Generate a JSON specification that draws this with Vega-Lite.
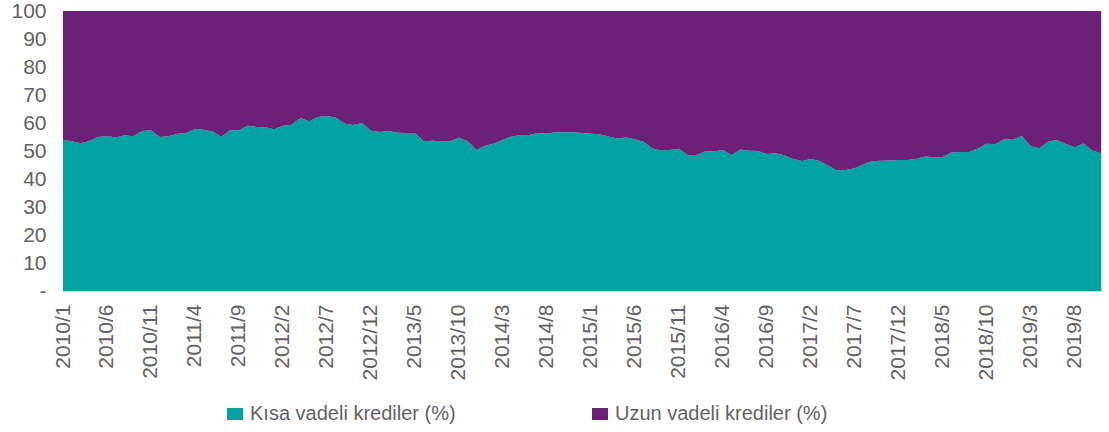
{
  "$schema": "https://vega.github.io/schema/vega-lite/v6.json",
  "width": 1038,
  "height": 280,
  "autosize": {"type": "none"},
  "padding": {"left": 63, "top": 11, "right": 8, "bottom": 141},
  "background": "white",
  "config": {
    "view": {"stroke": "#d9d9d9", "strokeWidth": 1},
    "font": "Liberation Sans",
    "axis": {"labelFont": "Liberation Sans", "labelColor": "#636363", "labelFontSize": 21, "grid": false, "domain": false, "ticks": false},
    "legend": {"labelFont": "Liberation Sans", "labelColor": "#636363", "labelFontSize": 20}
  },
  "data": {
    "values": [
      {"ay": "2010/1", "k": 54.0, "u": 46.0},
      {"ay": "2010/2", "k": 53.5, "u": 46.5},
      {"ay": "2010/3", "k": 52.8, "u": 47.2},
      {"ay": "2010/4", "k": 53.6, "u": 46.4},
      {"ay": "2010/5", "k": 55.0, "u": 45.0},
      {"ay": "2010/6", "k": 55.4, "u": 44.6},
      {"ay": "2010/7", "k": 54.8, "u": 45.2},
      {"ay": "2010/8", "k": 55.6, "u": 44.4},
      {"ay": "2010/9", "k": 55.3, "u": 44.7},
      {"ay": "2010/10", "k": 57.1, "u": 42.9},
      {"ay": "2010/11", "k": 57.4, "u": 42.6},
      {"ay": "2010/12", "k": 55.0, "u": 45.0},
      {"ay": "2011/1", "k": 55.3, "u": 44.7},
      {"ay": "2011/2", "k": 56.2, "u": 43.8},
      {"ay": "2011/3", "k": 56.3, "u": 43.7},
      {"ay": "2011/4", "k": 57.9, "u": 42.1},
      {"ay": "2011/5", "k": 57.6, "u": 42.4},
      {"ay": "2011/6", "k": 57.0, "u": 43.0},
      {"ay": "2011/7", "k": 55.0, "u": 45.0},
      {"ay": "2011/8", "k": 57.4, "u": 42.6},
      {"ay": "2011/9", "k": 57.4, "u": 42.6},
      {"ay": "2011/10", "k": 59.0, "u": 41.0},
      {"ay": "2011/11", "k": 58.6, "u": 41.4},
      {"ay": "2011/12", "k": 58.5, "u": 41.5},
      {"ay": "2012/1", "k": 57.8, "u": 42.2},
      {"ay": "2012/2", "k": 59.0, "u": 41.0},
      {"ay": "2012/3", "k": 59.4, "u": 40.6},
      {"ay": "2012/4", "k": 61.8, "u": 38.2},
      {"ay": "2012/5", "k": 60.6, "u": 39.4},
      {"ay": "2012/6", "k": 62.1, "u": 37.9},
      {"ay": "2012/7", "k": 62.5, "u": 37.5},
      {"ay": "2012/8", "k": 62.0, "u": 38.0},
      {"ay": "2012/9", "k": 59.8, "u": 40.2},
      {"ay": "2012/10", "k": 59.3, "u": 40.7},
      {"ay": "2012/11", "k": 60.0, "u": 40.0},
      {"ay": "2012/12", "k": 57.2, "u": 42.8},
      {"ay": "2013/1", "k": 56.8, "u": 43.2},
      {"ay": "2013/2", "k": 57.2, "u": 42.8},
      {"ay": "2013/3", "k": 56.5, "u": 43.5},
      {"ay": "2013/4", "k": 56.4, "u": 43.6},
      {"ay": "2013/5", "k": 56.4, "u": 43.6},
      {"ay": "2013/6", "k": 53.5, "u": 46.5},
      {"ay": "2013/7", "k": 53.7, "u": 46.3},
      {"ay": "2013/8", "k": 53.5, "u": 46.5},
      {"ay": "2013/9", "k": 53.4, "u": 46.6},
      {"ay": "2013/10", "k": 54.8, "u": 45.2},
      {"ay": "2013/11", "k": 53.5, "u": 46.5},
      {"ay": "2013/12", "k": 50.4, "u": 49.6},
      {"ay": "2014/1", "k": 51.9, "u": 48.1},
      {"ay": "2014/2", "k": 52.7, "u": 47.3},
      {"ay": "2014/3", "k": 54.0, "u": 46.0},
      {"ay": "2014/4", "k": 55.2, "u": 44.8},
      {"ay": "2014/5", "k": 55.7, "u": 44.3},
      {"ay": "2014/6", "k": 55.7, "u": 44.3},
      {"ay": "2014/7", "k": 56.4, "u": 43.6},
      {"ay": "2014/8", "k": 56.2, "u": 43.8},
      {"ay": "2014/9", "k": 56.7, "u": 43.3},
      {"ay": "2014/10", "k": 56.7, "u": 43.3},
      {"ay": "2014/11", "k": 56.7, "u": 43.3},
      {"ay": "2014/12", "k": 56.4, "u": 43.6},
      {"ay": "2015/1", "k": 56.2, "u": 43.8},
      {"ay": "2015/2", "k": 56.0, "u": 44.0},
      {"ay": "2015/3", "k": 55.2, "u": 44.8},
      {"ay": "2015/4", "k": 54.5, "u": 45.5},
      {"ay": "2015/5", "k": 54.8, "u": 45.2},
      {"ay": "2015/6", "k": 54.2, "u": 45.8},
      {"ay": "2015/7", "k": 53.3, "u": 46.7},
      {"ay": "2015/8", "k": 50.9, "u": 49.1},
      {"ay": "2015/9", "k": 50.2, "u": 49.8},
      {"ay": "2015/10", "k": 50.4, "u": 49.6},
      {"ay": "2015/11", "k": 50.8, "u": 49.2},
      {"ay": "2015/12", "k": 48.6, "u": 51.4},
      {"ay": "2016/1", "k": 48.6, "u": 51.4},
      {"ay": "2016/2", "k": 49.8, "u": 50.2},
      {"ay": "2016/3", "k": 49.8, "u": 50.2},
      {"ay": "2016/4", "k": 50.4, "u": 49.6},
      {"ay": "2016/5", "k": 48.5, "u": 51.5},
      {"ay": "2016/6", "k": 50.5, "u": 49.5},
      {"ay": "2016/7", "k": 50.1, "u": 49.9},
      {"ay": "2016/8", "k": 50.0, "u": 50.0},
      {"ay": "2016/9", "k": 48.9, "u": 51.1},
      {"ay": "2016/10", "k": 49.2, "u": 50.8},
      {"ay": "2016/11", "k": 48.5, "u": 51.5},
      {"ay": "2016/12", "k": 47.1, "u": 52.9},
      {"ay": "2017/1", "k": 46.4, "u": 53.6},
      {"ay": "2017/2", "k": 47.1, "u": 52.9},
      {"ay": "2017/3", "k": 46.4, "u": 53.6},
      {"ay": "2017/4", "k": 44.7, "u": 55.3},
      {"ay": "2017/5", "k": 43.0, "u": 57.0},
      {"ay": "2017/6", "k": 43.2, "u": 56.8},
      {"ay": "2017/7", "k": 43.8, "u": 56.2},
      {"ay": "2017/8", "k": 45.3, "u": 54.7},
      {"ay": "2017/9", "k": 46.3, "u": 53.7},
      {"ay": "2017/10", "k": 46.5, "u": 53.5},
      {"ay": "2017/11", "k": 46.6, "u": 53.4},
      {"ay": "2017/12", "k": 46.8, "u": 53.2},
      {"ay": "2018/1", "k": 46.8, "u": 53.2},
      {"ay": "2018/2", "k": 47.1, "u": 52.9},
      {"ay": "2018/3", "k": 48.0, "u": 52.0},
      {"ay": "2018/4", "k": 47.8, "u": 52.2},
      {"ay": "2018/5", "k": 47.9, "u": 52.1},
      {"ay": "2018/6", "k": 49.5, "u": 50.5},
      {"ay": "2018/7", "k": 49.6, "u": 50.4},
      {"ay": "2018/8", "k": 49.6, "u": 50.4},
      {"ay": "2018/9", "k": 50.9, "u": 49.1},
      {"ay": "2018/10", "k": 52.6, "u": 47.4},
      {"ay": "2018/11", "k": 52.4, "u": 47.6},
      {"ay": "2018/12", "k": 54.2, "u": 45.8},
      {"ay": "2019/1", "k": 54.0, "u": 46.0},
      {"ay": "2019/2", "k": 55.4, "u": 44.6},
      {"ay": "2019/3", "k": 51.7, "u": 48.3},
      {"ay": "2019/4", "k": 51.0, "u": 49.0},
      {"ay": "2019/5", "k": 53.4, "u": 46.6},
      {"ay": "2019/6", "k": 53.9, "u": 46.1},
      {"ay": "2019/7", "k": 52.5, "u": 47.5},
      {"ay": "2019/8", "k": 51.3, "u": 48.7},
      {"ay": "2019/9", "k": 52.7, "u": 47.3},
      {"ay": "2019/10", "k": 50.2, "u": 49.8},
      {"ay": "2019/11", "k": 49.2, "u": 50.8}
    ]
  },
  "transform": [
    {"fold": ["k", "u"], "as": ["seri", "deger"]}
  ],
  "mark": {"type": "area", "interpolate": "linear"},
  "encoding": {
    "x": {
      "field": "ay",
      "type": "ordinal",
      "sort": null,
      "scale": {"type": "point", "padding": 0},
      "axis": {
        "title": null,
        "labelAngle": -90,
        "labelPadding": 13,
        "labelOverlap": false,
        "labelBound": false,
        "labelFlush": false,
        "values": ["2010/1", "2010/6", "2010/11", "2011/4", "2011/9", "2012/2", "2012/7", "2012/12", "2013/5", "2013/10", "2014/3", "2014/8", "2015/1", "2015/6", "2015/11", "2016/4", "2016/9", "2017/2", "2017/7", "2017/12", "2018/5", "2018/10", "2019/3", "2019/8"]
      }
    },
    "y": {
      "field": "deger",
      "type": "quantitative",
      "stack": "zero",
      "scale": {"domain": [0, 100], "nice": false},
      "axis": {
        "title": null,
        "values": [0, 10, 20, 30, 40, 50, 60, 70, 80, 90, 100],
        "labelPadding": 17,
        "labelExpr": "datum.value == 0 ? '-' : datum.label"
      }
    },
    "color": {
      "field": "seri",
      "type": "nominal",
      "scale": {"domain": ["k", "u"], "range": ["#00A3A1", "#6D2077"]},
      "legend": {
        "title": null,
        "orient": "none",
        "direction": "horizontal",
        "legendX": 162,
        "legendY": 393,
        "symbolType": "M-1,-0.75H1V0.75H-1Z",
        "symbolSize": 256,
        "symbolStrokeWidth": 0,
        "labelOffset": 5,
        "columnPadding": 134,
        "labelLimit": 400,
        "labelExpr": "datum.label == 'k' ? 'Kısa vadeli krediler (%)' : 'Uzun vadeli krediler (%)'"
      }
    },
    "order": {"field": "seri", "sort": "ascending"}
  }
}
